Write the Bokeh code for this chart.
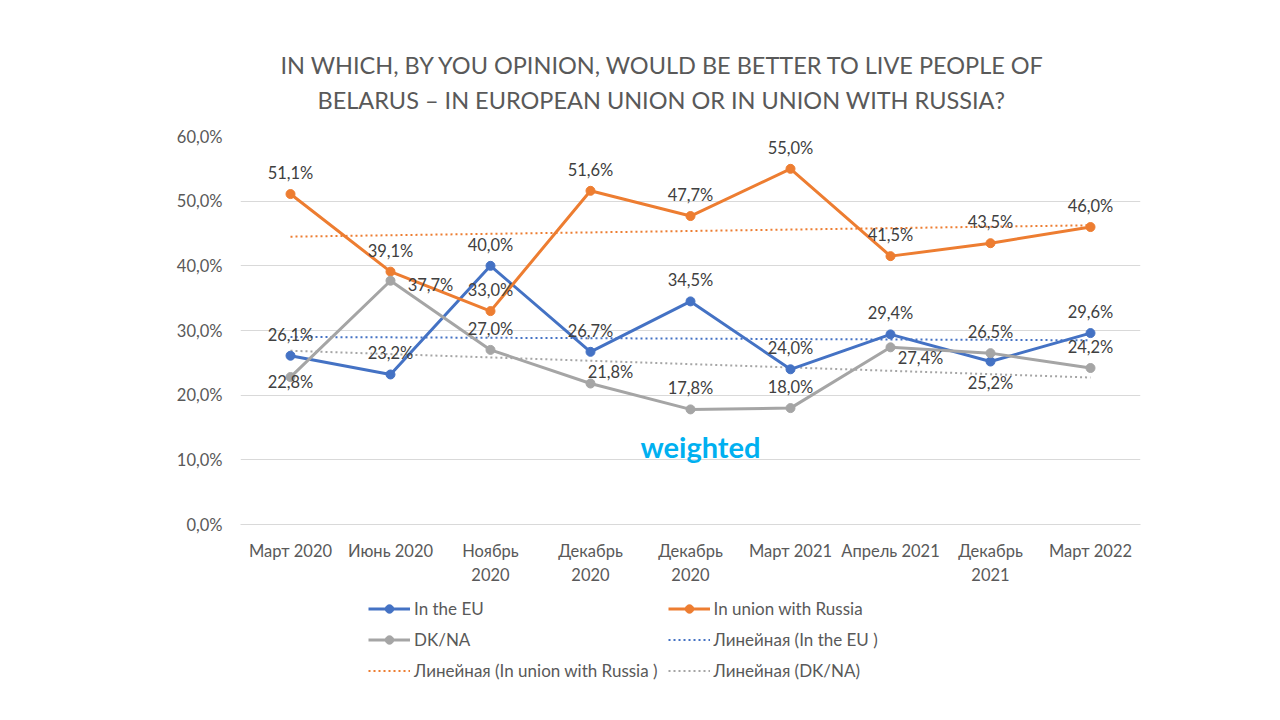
from bokeh.plotting import figure
from bokeh.layouts import column
from bokeh.models import (FixedTicker, Legend, LegendItem, Title, Label,
                          ColumnDataSource, Range1d)
from bokeh.embed import file_html
from bokeh.resources import INLINE
from bokeh.core.properties import value
import numpy as np

# ---------------- data ----------------
categories = ["Март 2020", "Июнь 2020", "Ноябрь\n2020", "Декабрь\n2020",
              "Декабрь\n2020", "Март 2021", "Апрель 2021", "Декабрь\n2021",
              "Март 2022"]
in_eu = [26.1, 23.2, 40.0, 26.7, 34.5, 24.0, 29.4, 25.2, 29.6]
in_russia = [51.1, 39.1, 33.0, 51.6, 47.7, 55.0, 41.5, 43.5, 46.0]
dk_na = [22.8, 37.7, 27.0, 21.8, 17.8, 18.0, 27.4, 26.5, 24.2]
y_ticks = [0, 10, 20, 30, 40, 50, 60]
title_lines = ["IN WHICH, BY YOU OPINION, WOULD BE BETTER TO LIVE PEOPLE OF",
               "BELARUS – IN EUROPEAN UNION OR IN UNION WITH RUSSIA?"]
legend_labels = ["In the EU", "In union with Russia", "DK/NA",
                 "Линейная (In the EU )", "Линейная (In union with Russia )",
                 "Линейная (DK/NA)"]

# label placement codes (style)
eu_pos = ["a", "a", "a", "a", "a", "a", "a", "b", "a"]
ru_pos = ["a", "a", "a", "a", "a", "a", "a", "a", "a"]
dk_pos = ["b0", "r", "a", "ru", "a", "a", "rd", "a", "a"]
OFFS = {"a": (0, -21), "b": (0, 21), "b0": (0, 5), "r": (40, 4),
        "ru": (20, -12), "rd": (30, 11)}

FONT = "Lato"
BLUE, ORANGE, GRAY = "#4472C4", "#ED7D31", "#A5A5A5"
TXT = "#404040"
W = 1264

x = list(range(len(categories)))

p = figure(width=W, height=590, output_backend="svg", toolbar_location=None,
           x_range=Range1d(-0.5, 8.5), y_range=Range1d(0, 60),
           min_border_left=240, min_border_right=W - 1140, min_border_top=136,
           min_border_bottom=66)
p.outline_line_color = None
p.background_fill_color = "white"
p.border_fill_color = "white"

# title (two lines; a thin spacer nearest the frame, then line 2, then line 1)
p.add_layout(Title(text=" ", text_font_size="1px", standoff=17), "above")
p.add_layout(Title(text=title_lines[1], align="left", text_font=FONT,
                   text_font_size="23.5px", text_color="#595959",
                   text_font_style="normal", offset=77, standoff=5), "above")
p.add_layout(Title(text=title_lines[0], align="left", text_font=FONT,
                   text_font_size="23.5px", text_color="#595959",
                   text_font_style="normal", offset=40, standoff=5), "above")

# axes
p.xaxis.ticker = FixedTicker(ticks=x)
p.xaxis.major_label_overrides = {i: c for i, c in enumerate(categories)}
p.yaxis.ticker = FixedTicker(ticks=y_ticks)
p.yaxis.major_label_overrides = {v: f"{v:.1f}".replace(".", ",") + "%" for v in y_ticks}
for ax in (p.xaxis[0], p.yaxis[0]):
    ax.major_tick_line_color = None
    ax.minor_tick_line_color = None
    ax.major_tick_out = 0
    ax.major_tick_in = 0
    ax.major_label_text_font = FONT
    ax.major_label_text_font_size = "16.5px"
    ax.major_label_text_color = "#595959"
p.xaxis.axis_line_color = "#D9D9D9"
p.yaxis.axis_line_color = None
p.xaxis.major_label_standoff = 16
p.yaxis.major_label_standoff = 18
p.xgrid.grid_line_color = None
p.ygrid.grid_line_color = "#D9D9D9"
p.ygrid.grid_line_width = 1

# trend lines (least squares, like Excel linear trendline)
def trend(vals):
    k, b = np.polyfit(x, vals, 1)
    return [k * xi + b for xi in x]

for vals, col in ((in_eu, BLUE), (in_russia, ORANGE), (dk_na, GRAY)):
    p.line(x, trend(vals), line_color=col, line_width=2, line_dash="2 3")

for vals, col in ((in_eu, BLUE), (in_russia, ORANGE), (dk_na, GRAY)):
    p.line(x, vals, line_color=col, line_width=3)
    p.scatter(x, vals, size=9, fill_color=col, line_color=col)

# data labels
for vals, pos in ((in_eu, eu_pos), (in_russia, ru_pos), (dk_na, dk_pos)):
    src = ColumnDataSource(dict(
        x=x, y=vals,
        t=[f"{v:.1f}".replace(".", ",") + "%" for v in vals],
        dx=[OFFS[c][0] for c in pos], dy=[OFFS[c][1] for c in pos]))
    p.text(x="x", y="y", text="t", source=src, x_offset="dx", y_offset="dy",
           text_font=value(FONT), text_font_size="16.5px", text_color=TXT,
           text_align="center", text_baseline="middle")

p.add_layout(Label(x=4.1, y=12, text="weighted", text_color="#00B0F0",
                   text_font=FONT, text_font_style="bold", text_font_size="29px",
                   text_align="center", text_baseline="middle"))

# ---------------- legend (own strip below the chart) ----------------
lg = figure(width=W, height=110, output_backend="svg", toolbar_location=None,
            x_range=Range1d(0, 1), y_range=Range1d(0, 1),
            x_axis_location=None, y_axis_location=None, min_border=0)
lg.outline_line_color = None
lg.xgrid.grid_line_color = None
lg.ygrid.grid_line_color = None
# legend swatches only: points far outside the visible range
off = dict(x=[-5, -6], y=[-5, -6])
rs = []
for col in (BLUE, ORANGE, GRAY):
    l = lg.line("x", "y", source=ColumnDataSource(off), line_color=col, line_width=3)
    c = lg.scatter("x", "y", source=ColumnDataSource(off), size=8,
                   fill_color=col, line_color=col)
    rs.append([l, c])
for col in (BLUE, ORANGE, GRAY):
    l = lg.line("x", "y", source=ColumnDataSource(off), line_color=col,
                line_width=2, line_dash="2 3")
    rs.append([l])
items = [LegendItem(label=legend_labels[i], renderers=rs[i]) for i in range(6)]
leg = Legend(items=items, orientation="horizontal", ncols=2,
             location=(128, 19), border_line_color=None,
             background_fill_alpha=0, label_text_font=FONT,
             label_text_font_size="17px", label_text_color="#595959",
             glyph_width=42, glyph_height=21, label_height=21,
             spacing=10, label_standoff=4, padding=4, margin=0)
lg.add_layout(leg, "center")

open("out.html", "w").write(file_html(column(p, lg, spacing=0), INLINE))
